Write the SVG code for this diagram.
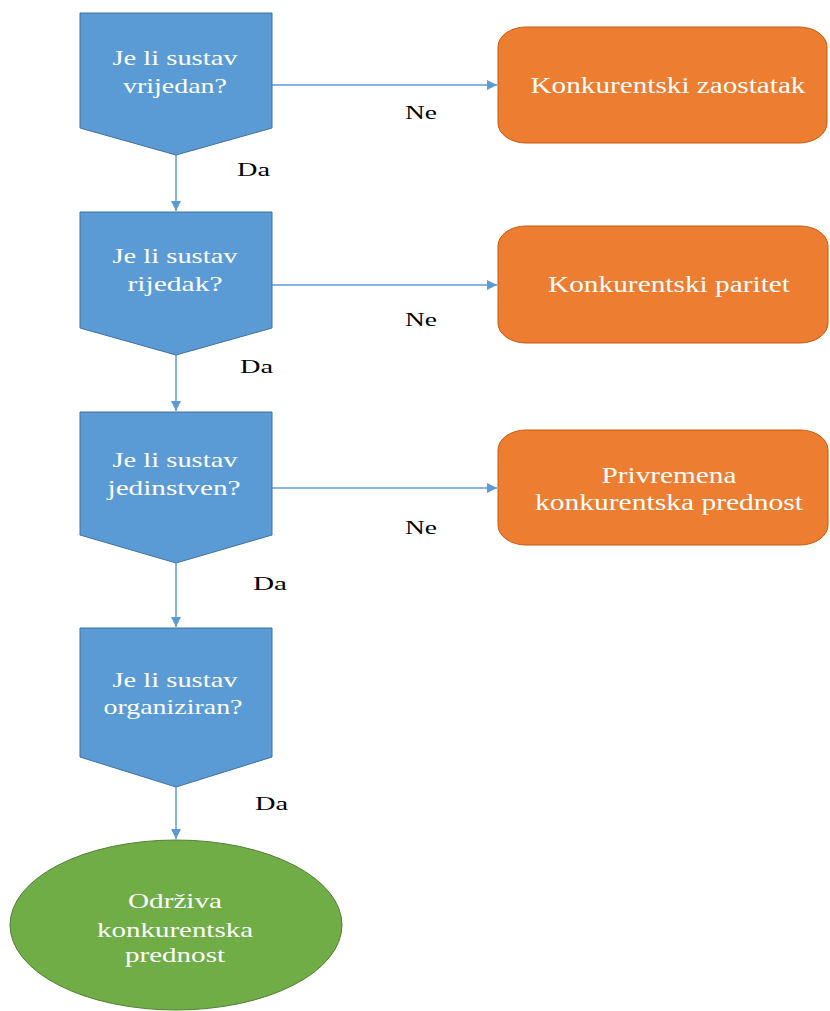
<svg xmlns="http://www.w3.org/2000/svg" width="830" height="1011" viewBox="0 0 830 1011">
  <defs>
    <marker id="arrow" markerUnits="userSpaceOnUse" markerWidth="12" markerHeight="12" refX="10" refY="5" orient="auto">
      <path d="M0,0 L10,5 L0,10 Z" fill="#5B9BD5"/>
    </marker>
    <style>
      .decision { fill: #5B9BD5; stroke: #41719C; stroke-width: 1; }
      .outcome { fill: #ED7D31; stroke: #C55A11; stroke-width: 1; }
      .final { fill: #70AD47; stroke: #507E32; stroke-width: 1; }
      .conn { fill: none; stroke: #5B9BD5; stroke-width: 1.5; marker-end: url(#arrow); }
      .lbl-in { font-family: "Liberation Serif", "Times New Roman", serif; fill: #FFFFFF; text-anchor: middle; }
      .lbl { font-family: "Liberation Serif", "Times New Roman", serif; fill: #000000; font-size: 19px; }
    </style>
  </defs>
  <rect width="830" height="1011" fill="#FFFFFF"/>

  <!-- connectors; text is widened 1.3x horizontally -->
  <g id="connectors">
    <line class="conn" x1="176" y1="155" x2="176" y2="211"/>
    <line class="conn" x1="176" y1="355" x2="176" y2="411"/>
    <line class="conn" x1="176" y1="563" x2="176" y2="627"/>
    <line class="conn" x1="176" y1="787" x2="176" y2="839"/>
    <line class="conn" x1="272" y1="85" x2="497" y2="85"/>
    <line class="conn" x1="272" y1="285" x2="497" y2="285"/>
    <line class="conn" x1="272" y1="488" x2="497" y2="488"/>
    <text class="lbl" transform="translate(237,176) scale(1.3,1)" textLength="25.4" lengthAdjust="spacingAndGlyphs">Da</text>
    <text class="lbl" transform="translate(240,373) scale(1.3,1)" textLength="25.4" lengthAdjust="spacingAndGlyphs">Da</text>
    <text class="lbl" transform="translate(253,590) scale(1.3,1)" textLength="26.2" lengthAdjust="spacingAndGlyphs">Da</text>
    <text class="lbl" transform="translate(255,810) scale(1.3,1)" textLength="25.4" lengthAdjust="spacingAndGlyphs">Da</text>
    <text class="lbl" transform="translate(405,119) scale(1.3,1)" textLength="24.6" lengthAdjust="spacingAndGlyphs">Ne</text>
    <text class="lbl" transform="translate(405,326) scale(1.3,1)" textLength="24.6" lengthAdjust="spacingAndGlyphs">Ne</text>
    <text class="lbl" transform="translate(405,534) scale(1.3,1)" textLength="24.6" lengthAdjust="spacingAndGlyphs">Ne</text>
  </g>

  <!-- decision 1 -->
  <g id="q-vrijedan">
    <polygon class="decision" points="80,13 272,13 272,128 176,155 80,128"/>
    <text class="lbl-in" font-size="22" transform="translate(175,65) scale(1.3,1)" textLength="96.2" lengthAdjust="spacingAndGlyphs">Je li sustav</text>
    <text class="lbl-in" font-size="22" transform="translate(175,93) scale(1.3,1)" textLength="80" lengthAdjust="spacingAndGlyphs">vrijedan?</text>
  </g>

  <!-- decision 2 -->
  <g id="q-rijedak">
    <polygon class="decision" points="80,212 272,212 272,328 176,355 80,328"/>
    <text class="lbl-in" font-size="22" transform="translate(175,263) scale(1.3,1)" textLength="96.2" lengthAdjust="spacingAndGlyphs">Je li sustav</text>
    <text class="lbl-in" font-size="22" transform="translate(175,291) scale(1.3,1)" textLength="73.1" lengthAdjust="spacingAndGlyphs">rijedak?</text>
  </g>

  <!-- decision 3 -->
  <g id="q-jedinstven">
    <polygon class="decision" points="80,412 272,412 272,535 176,563 80,535"/>
    <text class="lbl-in" font-size="22" transform="translate(175,467) scale(1.3,1)" textLength="96.2" lengthAdjust="spacingAndGlyphs">Je li sustav</text>
    <text class="lbl-in" font-size="22" transform="translate(174,495) scale(1.3,1)" textLength="102.3" lengthAdjust="spacingAndGlyphs">jedinstven?</text>
  </g>

  <!-- decision 4 -->
  <g id="q-organiziran">
    <polygon class="decision" points="80,628 272,628 272,757 176,787 80,757"/>
    <text class="lbl-in" font-size="22" transform="translate(175,687) scale(1.3,1)" textLength="96.2" lengthAdjust="spacingAndGlyphs">Je li sustav</text>
    <text class="lbl-in" font-size="22" transform="translate(173,714) scale(1.3,1)" textLength="106.9" lengthAdjust="spacingAndGlyphs">organiziran?</text>
  </g>

  <!-- outcome boxes -->
  <g id="o-zaostatak">
    <rect class="outcome" x="498" y="27" width="329" height="116" rx="28" ry="20"/>
    <text class="lbl-in" font-size="23.5" transform="translate(668,93) scale(1.3,1)" textLength="211.5" lengthAdjust="spacingAndGlyphs">Konkurentski zaostatak</text>
  </g>

  <g id="o-paritet">
    <rect class="outcome" x="498" y="226" width="330" height="117" rx="28" ry="20"/>
    <text class="lbl-in" font-size="23.5" transform="translate(669,292) scale(1.3,1)" textLength="186.2" lengthAdjust="spacingAndGlyphs">Konkurentski paritet</text>
  </g>

  <g id="o-privremena">
    <rect class="outcome" x="498" y="430" width="330" height="115" rx="28" ry="20"/>
    <text class="lbl-in" font-size="23.5" transform="translate(669,483) scale(1.3,1)" textLength="103.8" lengthAdjust="spacingAndGlyphs">Privremena</text>
    <text class="lbl-in" font-size="23.5" transform="translate(669,510) scale(1.3,1)" textLength="206.2" lengthAdjust="spacingAndGlyphs">konkurentska prednost</text>
  </g>

  <!-- terminal -->
  <g id="t-odrziva">
    <ellipse class="final" cx="176" cy="925" rx="166" ry="85"/>
    <text class="lbl-in" font-size="22" transform="translate(175,908) scale(1.3,1)" textLength="72.3" lengthAdjust="spacingAndGlyphs">Održiva</text>
    <text class="lbl-in" font-size="22" transform="translate(175,937) scale(1.3,1)" textLength="120" lengthAdjust="spacingAndGlyphs">konkurentska</text>
    <text class="lbl-in" font-size="22" transform="translate(175,962) scale(1.3,1)" textLength="76.9" lengthAdjust="spacingAndGlyphs">prednost</text>
  </g>
</svg>
